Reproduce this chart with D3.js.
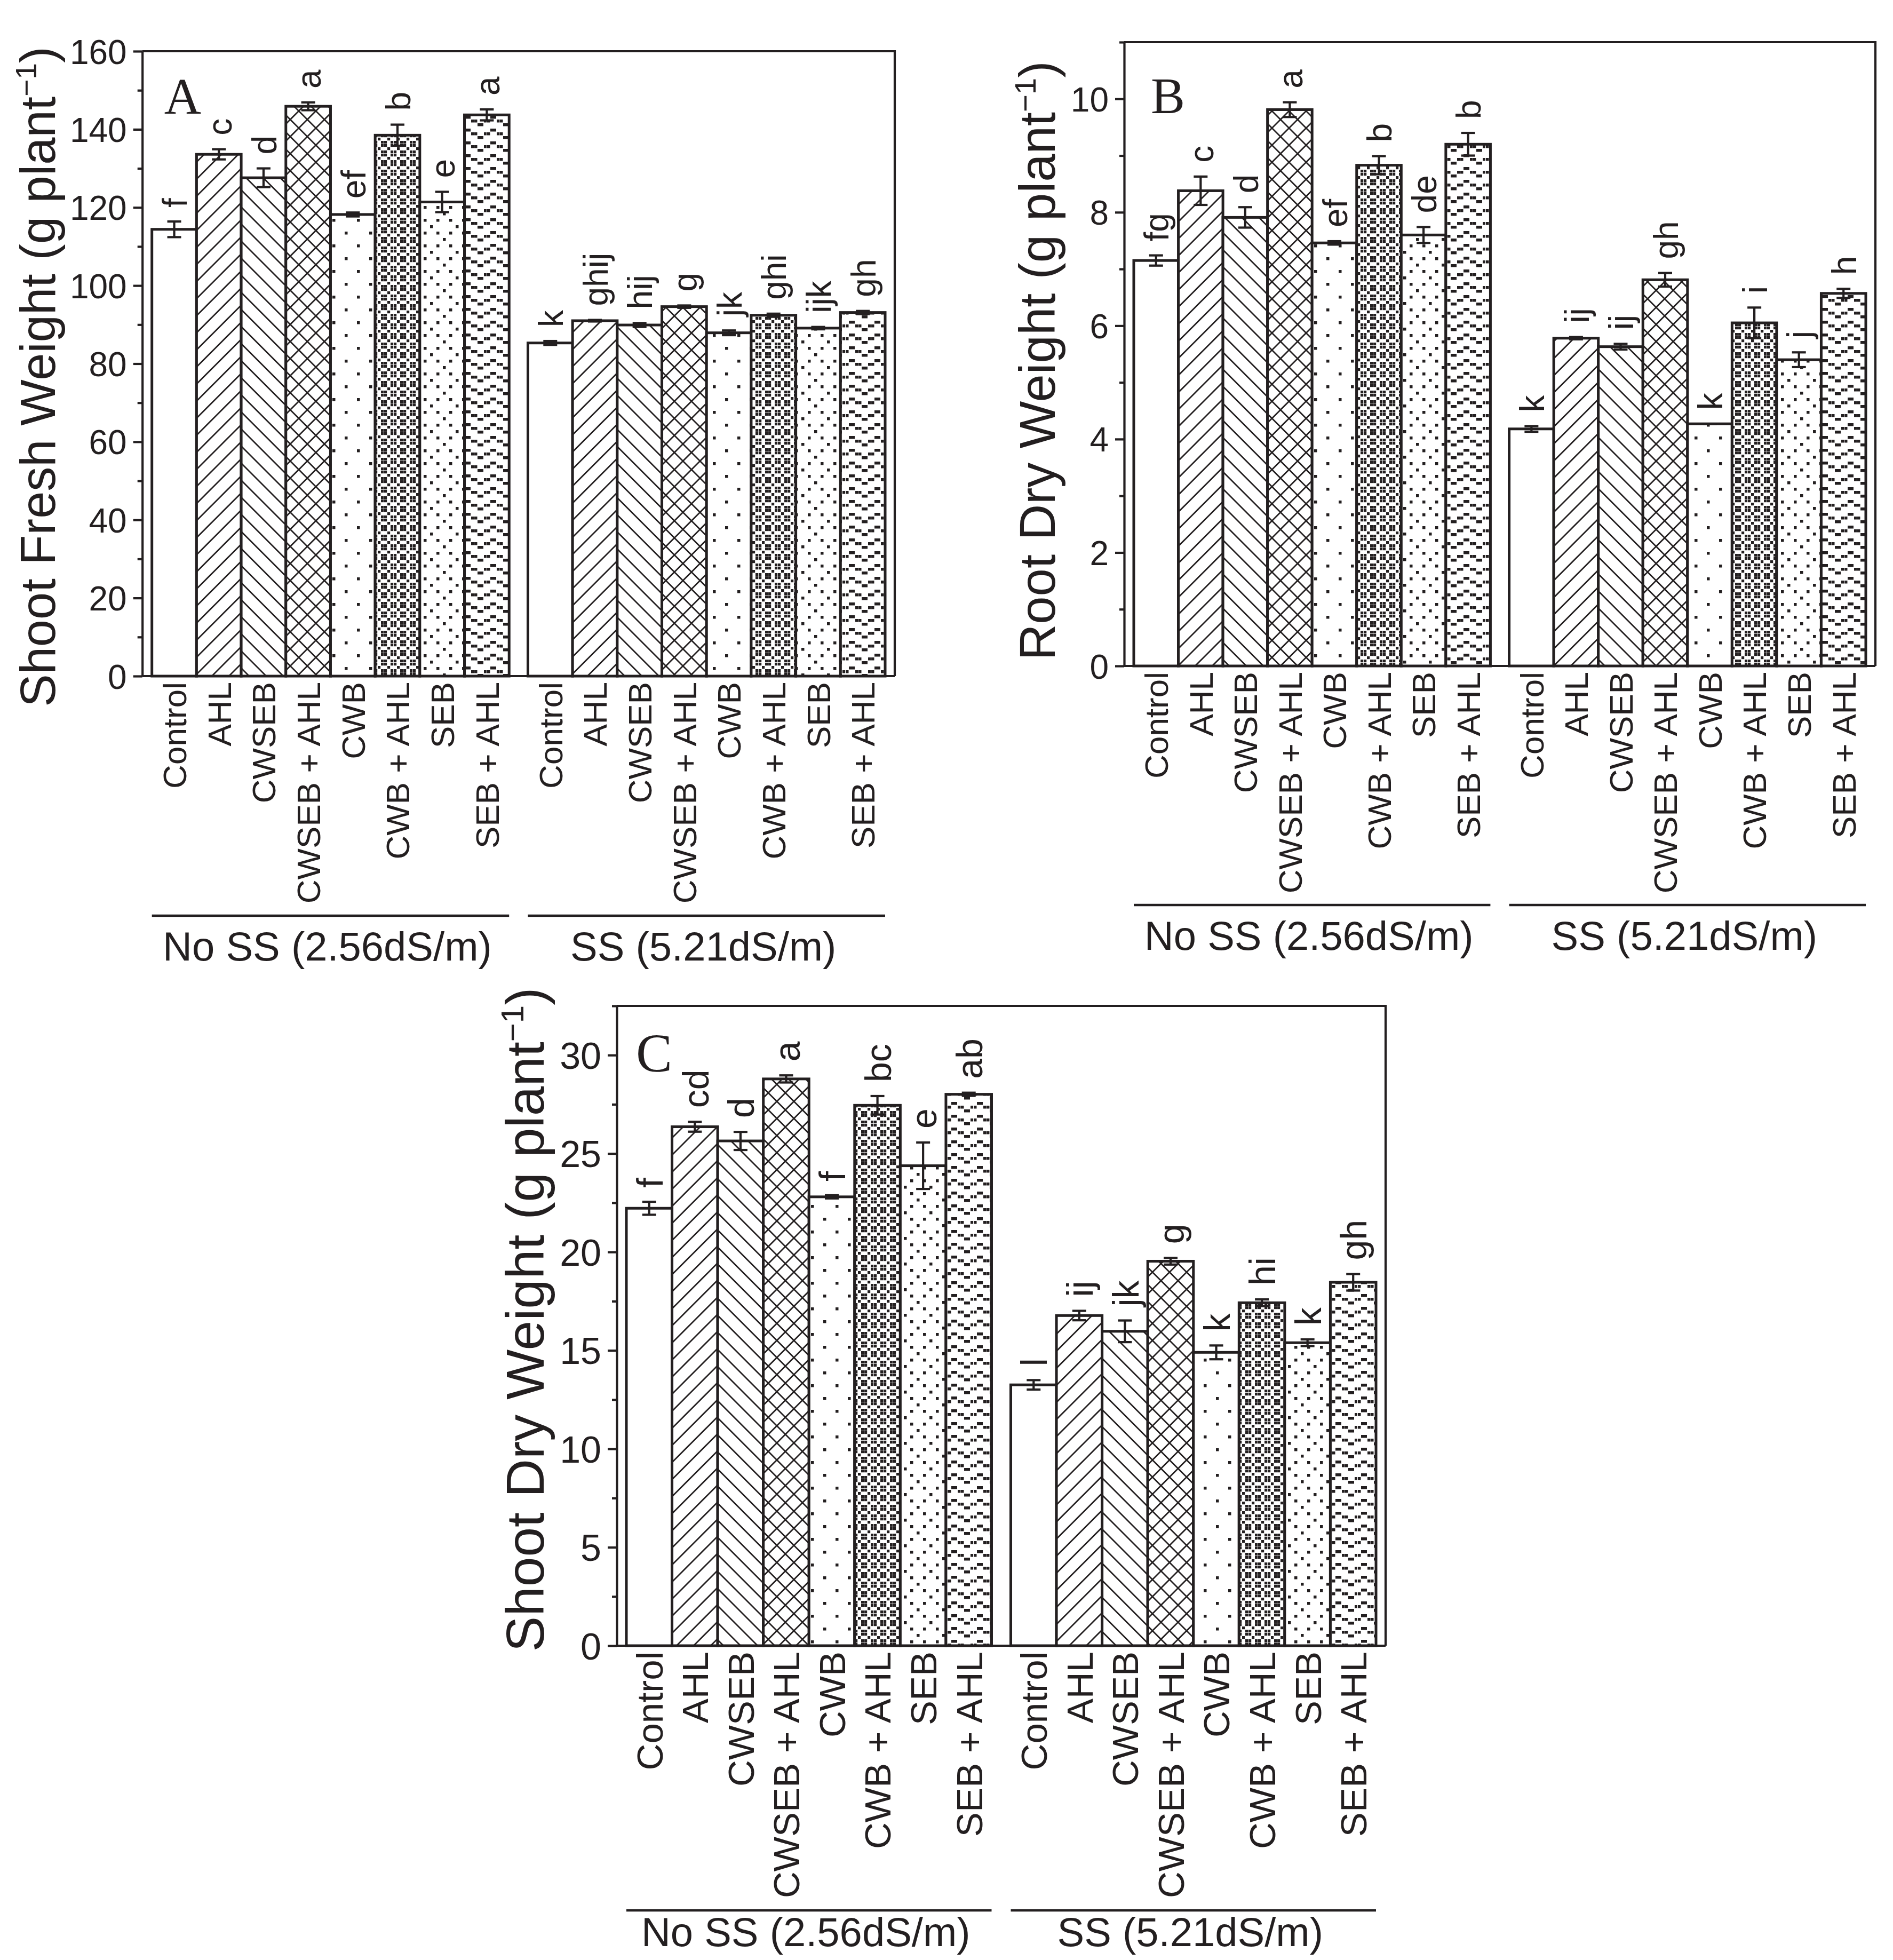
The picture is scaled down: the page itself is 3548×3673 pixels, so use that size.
<!DOCTYPE html>
<html><head><meta charset="utf-8">
<script src="https://cdn.jsdelivr.net/npm/d3@7"></script>
<style>body{margin:0;background:#fff}</style>
</head><body>
<svg id="fig" width="3548" height="3673" xmlns="http://www.w3.org/2000/svg"></svg>
<script>
// ---------------- DATA ----------------
const treatments = ["Control", "AHL", "CWSEB", "CWSEB + AHL", "CWB", "CWB + AHL", "SEB", "SEB + AHL"];
const groupNames = ["No SS (2.56dS/m)", "SS (5.21dS/m)"];

// Panel A: Shoot fresh weight (g plant-1)
const shootFreshNoSS    = [114.4, 133.6, 127.6, 145.9, 118.2, 138.5, 121.4, 143.7];
const shootFreshNoSSErr = [2.0, 1.3, 2.4, 1.0, 0.5, 2.7, 2.6, 1.4];
const shootFreshSS      = [85.3, 91.0, 89.9, 94.6, 87.9, 92.4, 89.1, 93.1];
const shootFreshSSErr   = [0.5, 0.2, 0.5, 0.3, 0.6, 0.4, 0.3, 0.4];
const shootFreshLettersNoSS = ["f", "c", "d", "a", "ef", "b", "e", "a"];
const shootFreshLettersSS   = ["k", "ghij", "hij", "g", "jk", "ghi", "ijk", "gh"];
const shootFreshTicks = [0, 20, 40, 60, 80, 100, 120, 140, 160];

// Panel B: Root dry weight (g plant-1)
const rootDryNoSS    = [7.15, 8.38, 7.91, 9.81, 7.46, 8.83, 7.60, 9.20];
const rootDryNoSSErr = [0.09, 0.25, 0.18, 0.13, 0.03, 0.16, 0.14, 0.20];
const rootDrySS      = [4.18, 5.78, 5.63, 6.81, 4.27, 6.05, 5.40, 6.57];
const rootDrySSErr   = [0.05, 0.02, 0.05, 0.12, 0.0, 0.27, 0.13, 0.08];
const rootDryLettersNoSS = ["fg", "c", "d", "a", "ef", "b", "de", "b"];
const rootDryLettersSS   = ["k", "ij", "ij", "gh", "k", "i", "j", "h"];
const rootDryTicks = [0, 2, 4, 6, 8, 10];

// Panel C: Shoot dry weight (g plant-1)
const shootDryNoSS    = [22.22, 26.36, 25.64, 28.79, 22.80, 27.45, 24.38, 28.01];
const shootDryNoSSErr = [0.33, 0.25, 0.46, 0.18, 0.08, 0.47, 1.18, 0.08];
const shootDrySS      = [13.25, 16.77, 15.97, 19.53, 14.90, 17.42, 15.39, 18.46];
const shootDrySSErr   = [0.24, 0.24, 0.55, 0.17, 0.35, 0.17, 0.17, 0.42];
const shootDryLettersNoSS = ["f", "cd", "d", "a", "f", "bc", "e", "ab"];
const shootDryLettersSS   = ["l", "ij", "jk", "g", "k", "hi", "k", "gh"];
const shootDryTicks = [0, 5, 10, 15, 20, 25, 30];

// ---------------- STYLE / LAYOUT ----------------
const INK = "#231f20";
const patternIds = ["p-none", "p-fwd", "p-back", "p-cross", "p-sparse", "p-check", "p-dots", "p-wave"];

const panels = [
  { letter: "A", title: "Shoot Fresh Weight (g plant", values: [shootFreshNoSS, shootFreshSS],
    errs: [shootFreshNoSSErr, shootFreshSSErr], sig: [shootFreshLettersNoSS, shootFreshLettersSS],
    ticks: shootFreshTicks, minorStep: 10, yMax: 160,
    left: 266.7, right: 1677, top: 96, bottom: 1267,
    tickFont: 64, catFont: 62, sigFont: 64, groupFont: 76, titleFont: 92, letterFont: 96,
    titleX: 103, titleY: 706, letterDX: 41, letterDY: 117, lineOff: 449, groupOff: 533 },
  { letter: "B", title: "Root Dry Weight (g plant", values: [rootDryNoSS, rootDrySS],
    errs: [rootDryNoSSErr, rootDrySSErr], sig: [rootDryLettersNoSS, rootDryLettersSS],
    ticks: rootDryTicks, minorStep: 1, yMax: 11,
    left: 2107, right: 3515, top: 79, bottom: 1248,
    tickFont: 64, catFont: 62, sigFont: 64, groupFont: 76, titleFont: 94, letterFont: 96,
    titleX: 1977, titleY: 676, letterDX: 50, letterDY: 133, lineOff: 448, groupOff: 532 },
  { letter: "C", title: "Shoot Dry Weight (g plant", values: [shootDryNoSS, shootDrySS],
    errs: [shootDryNoSSErr, shootDrySSErr], sig: [shootDryLettersNoSS, shootDryLettersSS],
    ticks: shootDryTicks, minorStep: 2.5, yMax: 32.5,
    left: 1156, right: 2597, top: 1885, bottom: 3084,
    tickFont: 70, catFont: 69, sigFont: 68, groupFont: 76, titleFont: 100, letterFont: 102,
    titleX: 1019, titleY: 2473, letterDX: 36, letterDY: 123, lineOff: 496, groupOff: 563 }
];

const svg = d3.select("#fig");
svg.append("rect").attr("width", 3548).attr("height", 3673).attr("fill", "#fff");

// ---------------- PATTERNS ----------------
const defs = svg.append("defs");
function pat(id, w, h) {
  const p = defs.append("pattern").attr("id", id).attr("patternUnits", "userSpaceOnUse")
    .attr("width", w).attr("height", h);
  p.append("rect").attr("width", w).attr("height", h).attr("fill", "#fff");
  return p;
}
function squares(p, list) {
  list.forEach(([x, y, w, h]) => p.append("rect").attr("x", x).attr("y", y)
    .attr("width", w).attr("height", h).attr("fill", INK));
}
pat("p-none", 10, 10);
pat("p-fwd", 32, 32).append("path").attr("d", "M0,32 L32,0 M-8,8 L8,-8 M24,40 L40,24")
  .attr("stroke", INK).attr("stroke-width", 2.8);
pat("p-back", 32, 32).append("path").attr("d", "M0,0 L32,32 M-8,24 L8,40 M24,-8 L40,8")
  .attr("stroke", INK).attr("stroke-width", 2.8);
pat("p-cross", 32, 32).append("path")
  .attr("d", "M0,32 L32,0 M-8,8 L8,-8 M24,40 L40,24 M0,0 L32,32 M-8,24 L8,40 M24,-8 L40,8")
  .attr("stroke", INK).attr("stroke-width", 2.8);
squares(pat("p-sparse", 46, 48), [[2, 2, 5.5, 5.5], [25, 26, 5.5, 5.5]]);
squares(pat("p-check", 18, 18), [[0, 0, 5.2, 5.2], [12, 0, 5.2, 5.2], [6, 6, 5.2, 5.2], [0, 12, 5.2, 5.2], [12, 12, 5.2, 5.2]]);
squares(pat("p-dots", 48, 48), [[2, 2, 5.5, 5.5], [26, 2, 5.5, 5.5], [2, 26, 5.5, 5.5], [26, 26, 5.5, 5.5], [14, 14, 5.5, 5.5], [38, 38, 5.5, 5.5]]);
squares(pat("p-wave", 48, 24), [
  [7, 1, 11, 5.5], [1, 8, 5.5, 5.5], [19, 8, 5.5, 5.5],
  [31, 15, 11, 5.5], [25, 8, 5.5, 5.5], [43, 8, 5, 5.5]
]);

// ---------------- DRAW ----------------
function drawPanel(cfg) {
  const g = svg.append("g");
  const y = d3.scaleLinear().domain([0, cfg.yMax]).range([cfg.bottom, cfg.top]);
  const xg = d3.scaleBand().domain(groupNames).range([cfg.left + 18, cfg.right - 18]).paddingInner(0.05);
  const xt = d3.scaleBand().domain(treatments).range([0, xg.bandwidth()]);

  const rows = [];
  groupNames.forEach((gn, gi) => treatments.forEach((t, ti) => rows.push({
    group: gn, t, ti, v: cfg.values[gi][ti], e: cfg.errs[gi][ti], sig: cfg.sig[gi][ti]
  })));
  const cx = d => xg(d.group) + xt(d.t) + xt.bandwidth() / 2;

  // bars
  g.selectAll("rect.bar").data(rows).join("rect").attr("class", "bar")
    .attr("x", d => xg(d.group) + xt(d.t)).attr("width", xt.bandwidth())
    .attr("y", d => y(d.v)).attr("height", d => y(0) - y(d.v))
    .attr("fill", d => `url(#${patternIds[d.ti]})`)
    .attr("stroke", INK).attr("stroke-width", 5);

  // error bars
  const eb = g.selectAll("g.err").data(rows).join("g").attr("class", "err")
    .attr("stroke", INK).attr("stroke-width", 4.2);
  eb.append("line").attr("x1", cx).attr("x2", cx).attr("y1", d => y(d.v + d.e)).attr("y2", d => y(d.v - d.e));
  eb.append("line").attr("x1", d => cx(d) - 13).attr("x2", d => cx(d) + 13).attr("y1", d => y(d.v + d.e)).attr("y2", d => y(d.v + d.e));
  eb.append("line").attr("x1", d => cx(d) - 13).attr("x2", d => cx(d) + 13).attr("y1", d => y(d.v - d.e)).attr("y2", d => y(d.v - d.e));

  // significance letters
  g.selectAll("text.sig").data(rows).join("text").attr("class", "sig")
    .attr("transform", d => `translate(${cx(d)},${y(d.v + d.e) - 26}) rotate(-90)`)
    .attr("dy", "0.37em").attr("text-anchor", "start")
    .attr("font-family", "'Liberation Sans', Arial, sans-serif").attr("font-size", cfg.sigFont)
    .attr("fill", INK).text(d => d.sig);

  // frame
  g.append("path").attr("d", `M${cfg.left},${cfg.top} H${cfg.right} V${cfg.bottom}`)
    .attr("fill", "none").attr("stroke", INK).attr("stroke-width", 4.2);
  g.append("line").attr("x1", cfg.left).attr("x2", cfg.right).attr("y1", cfg.bottom).attr("y2", cfg.bottom)
    .attr("stroke", INK).attr("stroke-width", 4.2);

  // y axis
  const minor = d3.range(0, cfg.yMax + 1e-9, cfg.minorStep).filter(v => !cfg.ticks.some(t => Math.abs(t - v) < 1e-9));
  const yAxis = g.append("g").attr("transform", `translate(${cfg.left},0)`)
    .call(d3.axisLeft(y).tickValues(cfg.ticks).tickSize(17).tickSizeOuter(0).tickPadding(12).tickFormat(d3.format("d")));
  yAxis.select(".domain").attr("stroke", INK).attr("stroke-width", 4.2);
  yAxis.selectAll(".tick line").attr("stroke", INK).attr("stroke-width", 4.2);
  yAxis.selectAll(".tick text").attr("font-family", "'Liberation Sans Narrow', 'Arial Narrow', sans-serif")
    .attr("font-size", cfg.tickFont).attr("fill", INK).attr("dy", "0.36em");
  const yMinor = g.append("g").attr("transform", `translate(${cfg.left},0)`)
    .call(d3.axisLeft(y).tickValues(minor).tickSize(9).tickSizeOuter(0).tickFormat(""));
  yMinor.select(".domain").remove();
  yMinor.selectAll(".tick line").attr("stroke", INK).attr("stroke-width", 4.2);

  // category labels
  g.selectAll("text.cat").data(rows).join("text").attr("class", "cat")
    .attr("transform", d => `translate(${cx(d)},${cfg.bottom + 11}) rotate(-90)`)
    .attr("dy", "0.36em").attr("text-anchor", "end")
    .attr("font-family", "'Liberation Sans', Arial, sans-serif").attr("font-size", cfg.catFont)
    .attr("fill", INK).text(d => d.t);

  // group lines and labels
  groupNames.forEach(gn => {
    g.append("line").attr("x1", xg(gn)).attr("x2", xg(gn) + xg.bandwidth())
      .attr("y1", cfg.bottom + cfg.lineOff).attr("y2", cfg.bottom + cfg.lineOff)
      .attr("stroke", INK).attr("stroke-width", 4.5);
    g.append("text").attr("x", xg(gn) + xg.bandwidth() / 2 - 6).attr("y", cfg.bottom + cfg.groupOff)
      .attr("text-anchor", "middle").attr("font-family", "'Liberation Sans', Arial, sans-serif")
      .attr("font-size", cfg.groupFont).attr("fill", INK).text(gn);
  });

  // y title
  const tt = g.append("text").attr("transform", `translate(${cfg.titleX},${cfg.titleY}) rotate(-90)`)
    .attr("text-anchor", "middle").attr("font-family", "'Liberation Sans', Arial, sans-serif")
    .attr("font-size", cfg.titleFont).attr("fill", INK);
  tt.append("tspan").text(cfg.title);
  tt.append("tspan").attr("dy", -cfg.titleFont * 0.38).attr("font-size", cfg.titleFont * 0.6).text("\u22121");
  tt.append("tspan").attr("dy", cfg.titleFont * 0.38).text(")");

  // panel letter
  g.append("text").attr("x", cfg.left + cfg.letterDX).attr("y", cfg.top + cfg.letterDY)
    .attr("font-family", "'Liberation Serif', 'Times New Roman', serif").attr("font-size", cfg.letterFont)
    .attr("fill", INK).text(cfg.letter);
}

panels.forEach(drawPanel);
</script>
</body></html>
